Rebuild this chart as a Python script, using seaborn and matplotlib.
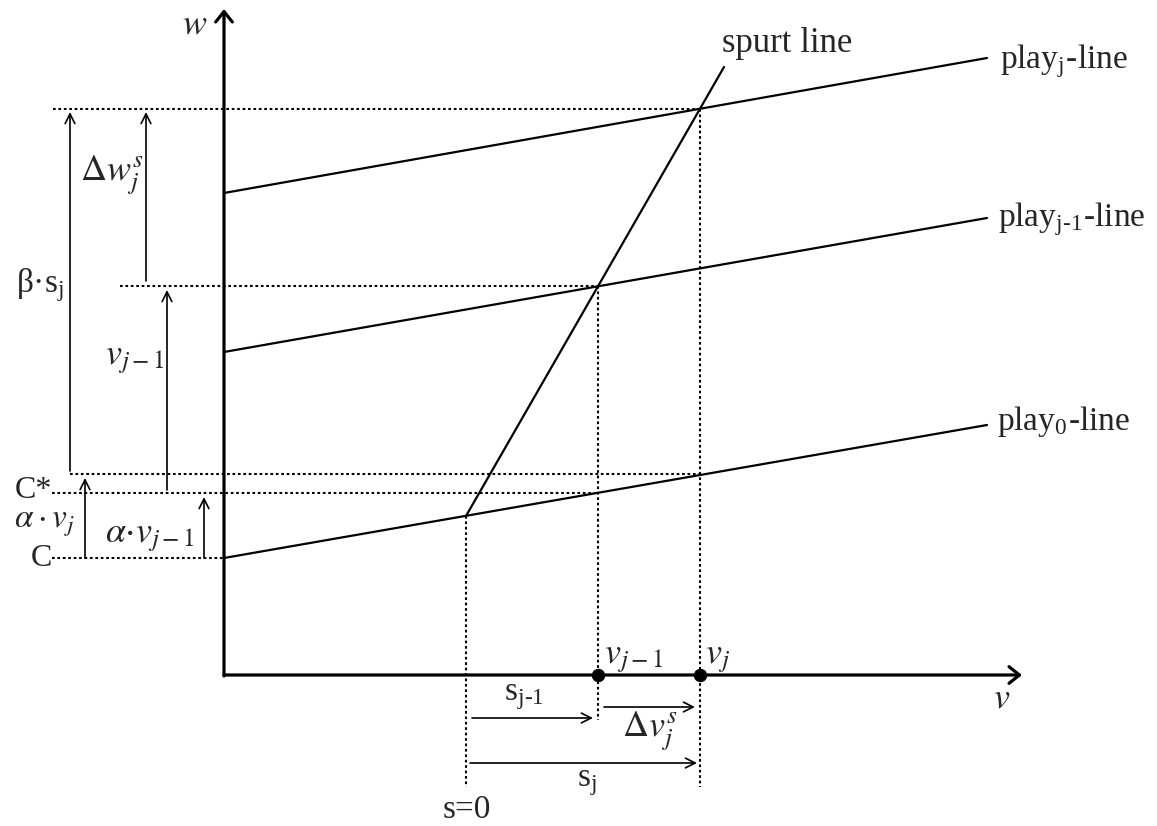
import numpy as np
import pandas as pd
import matplotlib
matplotlib.use("Agg")
import matplotlib.pyplot as plt
import seaborn as sns

# ---------------- data (schematic units, origin at the axes crossing) ----------------
line_names = ["play0-line", "playj-1-line", "playj-line", "spurt line"]
line_v_start = [0, 0, 0, 242]
line_v_end = [763, 763, 763, 500]
line_w_start = [117, 323, 482, 159]
line_w_end = [250, 457, 617, 608]

s0_v = 242          # s = 0
v_prev = 374        # v_{j-1}
v_j = 476           # v_j
w_s0 = 159          # spurt start on play0-line
w_prev = 389        # spurt x play_{j-1}
w_j = 566           # spurt x play_j
C_level = 117       # C
Cstar_level = 182   # C* = C + alpha*v_{j-1}
Cj_level = 201      # C + alpha*v_j

marked_v = [v_prev, v_j]
marked_w = [0, 0]

# ---------------- figure ----------------
sns.set_style("white")
plt.rcParams["font.family"] = ["Liberation Serif", "DejaVu Serif"]
plt.rcParams["mathtext.fontset"] = "stix"

fig = plt.figure(figsize=(11.57, 8.26), dpi=100)
ax = fig.add_axes([0, 0, 1, 1])
ax.set_xlim(-224, 933)
ax.set_ylim(-151, 675)
ax.axis("off")

rows = []
for n, v0, v1, w0, w1 in zip(line_names, line_v_start, line_v_end, line_w_start, line_w_end):
    rows.append({"line": n, "v": v0, "w": w0})
    rows.append({"line": n, "v": v1, "w": w1})
df = pd.DataFrame(rows)
sns.lineplot(data=df, x="v", y="w", hue="line", units="line", estimator=None, sort=False,
             palette=["black"] * len(line_names), legend=False, linewidth=1.6, ax=ax)

# axes with arrows
ax_arrow = dict(arrowstyle="->,head_length=0.75,head_width=0.6", color="black", lw=2.3,
                shrinkA=0, shrinkB=0)
ax.annotate("", xy=(798, 0), xytext=(0, 0), arrowprops=ax_arrow)
ax.annotate("", xy=(0, 666), xytext=(0, -1), arrowprops=ax_arrow)

# dotted guides
dot = dict(color="black", lw=1.5, linestyle=(0, (1.3, 1.3)))
for w, a, b in [(w_j, -171, v_j), (w_prev, -104, v_prev), (Cj_level, -154, v_j),
                (Cstar_level, -172, v_prev), (C_level, -172, 0)]:
    ax.plot([a, b], [w, w], **dot)
for v, a, b in [(s0_v, w_s0, -112), (v_prev, w_prev, -45), (v_j, w_j, -112)]:
    ax.plot([v, v], [a, b], **dot)

# dimension arrows
thin = dict(arrowstyle="->,head_length=0.7,head_width=0.35", color="black", lw=1.2,
            shrinkA=0, shrinkB=0)
for x, a, b in [(-154, Cj_level + 3, w_j - 3), (-78, w_prev + 5, w_j - 3),
                (-57, Cstar_level + 3, w_prev - 4), (-139, C_level, Cj_level - 4),
                (-20, C_level, Cstar_level - 4)]:
    ax.annotate("", xy=(x, b), xytext=(x, a), arrowprops=thin)
for w, a, b in [(-43, 248, 369), (-32, 380, 471), (-88, 246, 473)]:
    ax.annotate("", xy=(b, w), xytext=(a, w), arrowprops=thin)

sns.scatterplot(x=marked_v, y=marked_w, color="black", s=80, edgecolor="black", zorder=5, ax=ax)

fs = 24     # regular text
fm = 26     # math text
# labels
ax.text(-29, 650, r"$w$", fontsize=fm, ha="center", va="center")
ax.text(778, -24, r"$v$", fontsize=fm, ha="center", va="center")
ax.text(498, 623, "spurt line", fontsize=fs + 1, ha="left", va="baseline")
ax.text(776, 607, r"play$_{\mathregular{j}}$-line", fontsize=fs, ha="left", va="baseline")
ax.text(774, 448, "play$_{\\mathregular{j\u20101}}$-line", fontsize=fs, ha="left", va="baseline")
ax.text(773, 245, r"play$_{\mathregular{0}}$-line", fontsize=fs, ha="left", va="baseline")

ax.text(-112, 500, r"$\Delta w_j^s$", fontsize=fm, ha="center", va="center")
ax.text(-184, 390, r"β·s$_{\mathregular{j}}$", fontsize=fs, ha="center", va="center")
ax.text(-89, 316, r"$v_{j-1}$", fontsize=fm, ha="center", va="center")
ax.text(-172, 185, "C*", fontsize=fs - 1, ha="right", va="center")
ax.text(-180, 151, r"$\alpha \cdot v_j$", fontsize=fm - 2, ha="center", va="center")
ax.text(-74, 138, r"$\alpha{\cdot}v_{j-1}$", fontsize=fm, ha="center", va="center")
ax.text(-172, 117, "C", fontsize=fs - 1, ha="right", va="center")

ax.text(380, 16, r"$v_{j-1}$", fontsize=fm, ha="left", va="center")
ax.text(481, 16, r"$v_j$", fontsize=fm, ha="left", va="center")
ax.text(300, -22, "s$_{\\mathregular{j\u20101}}$", fontsize=fs, ha="center", va="center")
ax.text(426, -56, r"$\Delta v_j^s$", fontsize=fm, ha="center", va="center")
ax.text(363, -108, r"s$_{\mathregular{j}}$", fontsize=fs, ha="center", va="center")
ax.text(243, -135, "s=0", fontsize=fs, ha="center", va="center")

fig.savefig("out.png", dpi=100, facecolor="white")
